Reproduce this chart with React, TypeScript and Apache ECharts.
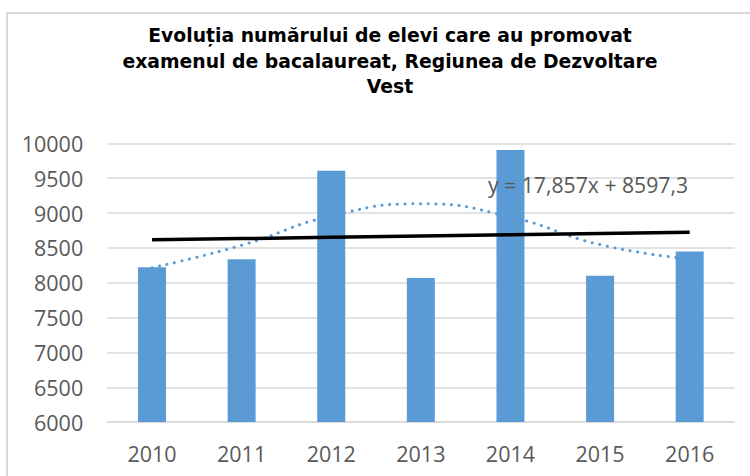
import React, { useEffect, useRef } from "react";
import * as echarts from "echarts";

const years = ["2010", "2011", "2012", "2013", "2014", "2015", "2016"];
const promovati = [8221, 8336, 9607, 8067, 9904, 8100, 8446];
const polyTrend = [8215, 8537, 8957, 9132, 8943, 8546, 8340];
const SLOPE = 17.857;
const INTERCEPT = 8597.3;
const equationLabel = "y = 17,857x + 8597,3";
const titleLines = [
  "Evoluția numărului de elevi care au promovat",
  "examenul de bacalaureat, Regiunea de Dezvoltare",
  "Vest",
];

export default function App() {
  const ref = useRef<HTMLDivElement>(null);
  useEffect(() => {
    document.body.style.margin = "0";
    const chart = echarts.init(ref.current!, null, { renderer: "svg" });
    const linear = years.map((_, i) => +(INTERCEPT + SLOPE * (i + 1)).toFixed(1));
    chart.setOption({
      animation: false,
      backgroundColor: "#ffffff",
      title: {
        text: titleLines.join("\n"),
        left: 385,
        top: 18,
        textAlign: "center",
        textStyle: {
          fontFamily: "DejaVu Sans",
          fontWeight: "bold",
          fontSize: 18.8,
          lineHeight: 25.5,
          color: "#000000",
        },
      },
      grid: { left: 107.2, right: 15.5, top: 143.3, bottom: 53.9, containLabel: false },
      xAxis: {
        type: "category",
        data: years,
        axisLine: { show: true, lineStyle: { color: "#d9d9d9", width: 1.5 } },
        axisTick: { show: false },
        axisLabel: {
          margin: 20,
          fontFamily: "Open Sans",
          fontSize: 21.5,
          lineHeight: 22,
          color: "#595959",
        },
      },
      yAxis: {
        type: "value",
        min: 6000,
        max: 10000,
        interval: 500,
        axisLine: { show: false },
        axisTick: { show: false },
        splitLine: { lineStyle: { color: "#d9d9d9", width: 1.5 } },
        axisLabel: {
          margin: 24,
          fontFamily: "Open Sans",
          fontSize: 21.5,
          color: "#595959",
          formatter: (v: number) => String(v),
        },
      },
      graphic: [
        {
          type: "rect",
          shape: { x: 7, y: 13, width: 800, height: 520 },
          style: { fill: "none", stroke: "#d9d9d9", lineWidth: 2 },
          z: -10,
        },
        {
          type: "text",
          x: 488,
          y: 184,
          z: 100,
          style: {
            text: equationLabel,
            fontFamily: "Open Sans",
            fontSize: 21.2,
            fill: "#595959",
            verticalAlign: "middle",
            align: "left",
          },
        },
      ],
      series: [
        {
          type: "line",
          data: polyTrend,
          smooth: 0.5,
          symbol: "none",
          z: 1,
          lineStyle: { color: "#5b9bd5", width: 3, type: [0.1, 7.6], cap: "round" },
        },
        {
          type: "bar",
          data: promovati,
          barWidth: 28,
          z: 2,
          itemStyle: { color: "#5b9bd5" },
        },
        {
          type: "line",
          data: linear,
          symbol: "none",
          z: 3,
          lineStyle: { color: "#000000", width: 3.5 },
        },
      ],
    });
    return () => chart.dispose();
  }, []);
  return <div ref={ref} style={{ width: 750, height: 476 }} />;
}
